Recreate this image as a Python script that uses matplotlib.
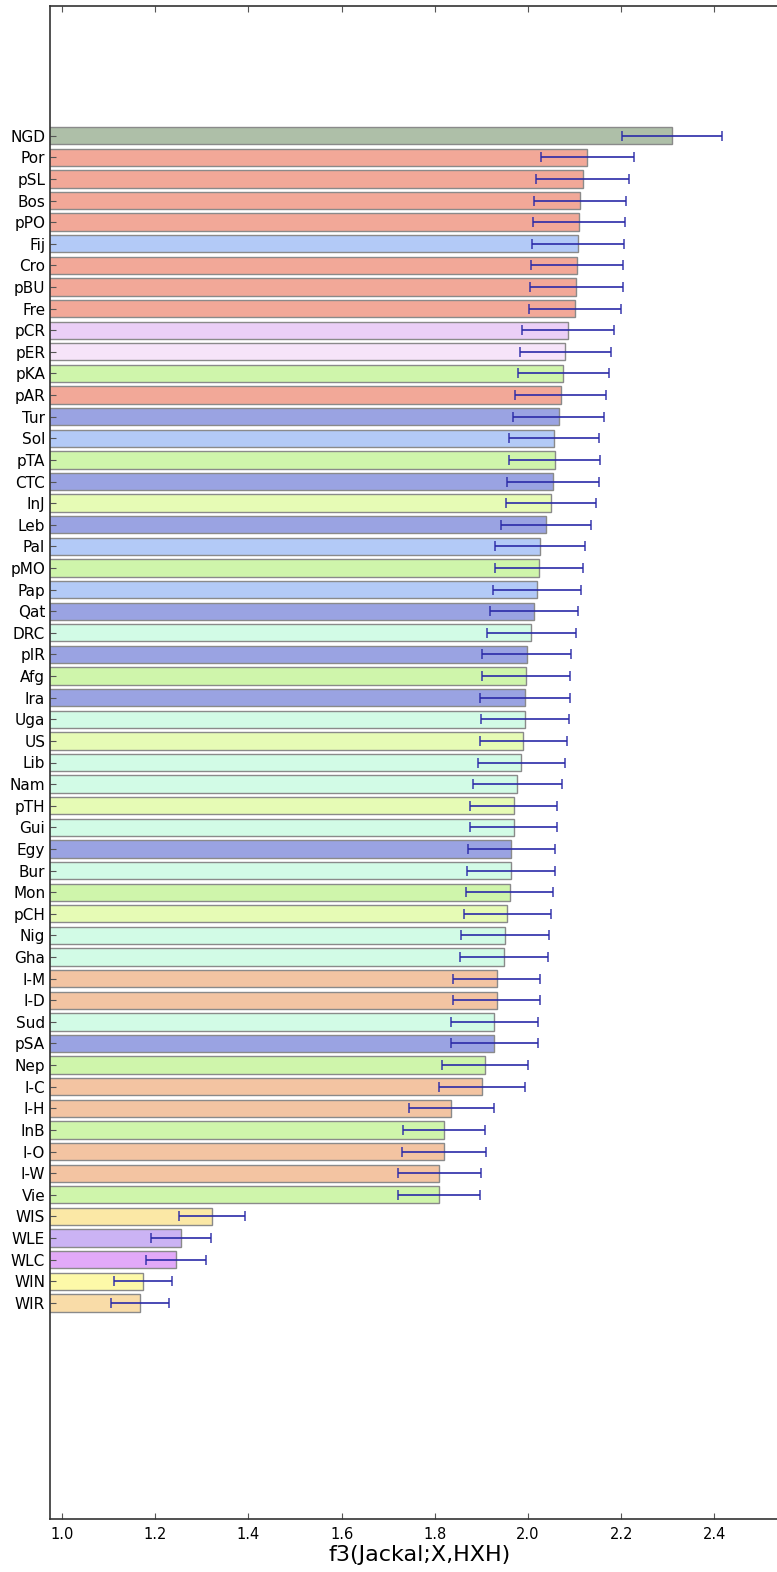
"""Horizontal bar chart of f3(Jackal;X,HXH) per population with error bars."""

import matplotlib

matplotlib.use("Agg")
import matplotlib.pyplot as plt
import numpy as np

# populations, top to bottom
labels = [
    "NGD", "Por", "pSL", "Bos", "pPO", "Fij", "Cro", "pBU", "Fre", "pCR",
    "pER", "pKA", "pAR", "Tur", "Sol", "pTA", "CTC", "InJ", "Leb", "Pal",
    "pMO", "Pap", "Qat", "DRC", "pIR", "Afg", "Ira", "Uga", "US", "Lib",
    "Nam", "pTH", "Gui", "Egy", "Bur", "Mon", "pCH", "Nig", "Gha", "I-M",
    "I-D", "Sud", "pSA", "Nep", "I-C", "I-H", "InB", "I-O", "I-W", "Vie",
    "WIS", "WLE", "WLC", "WIN", "WIR",
]

f3_values = [
    2.309, 2.127, 2.117, 2.112, 2.109, 2.107, 2.105, 2.104, 2.101, 2.086,
    2.080, 2.076, 2.070, 2.066, 2.056, 2.057, 2.054, 2.049, 2.039, 2.026,
    2.024, 2.019, 2.013, 2.007, 1.997, 1.996, 1.994, 1.994, 1.990, 1.986,
    1.977, 1.969, 1.969, 1.964, 1.963, 1.961, 1.956, 1.951, 1.949, 1.933,
    1.933, 1.928, 1.928, 1.908, 1.901, 1.835, 1.820, 1.819, 1.810, 1.808,
    1.322, 1.255, 1.245, 1.173, 1.167,
]

f3_errors = [
    0.107, 0.100, 0.099, 0.099, 0.099, 0.099, 0.099, 0.099, 0.099, 0.098,
    0.098, 0.098, 0.098, 0.098, 0.097, 0.097, 0.098, 0.096, 0.097, 0.096,
    0.095, 0.095, 0.095, 0.096, 0.095, 0.095, 0.097, 0.095, 0.094, 0.094,
    0.095, 0.093, 0.094, 0.093, 0.094, 0.093, 0.094, 0.094, 0.094, 0.093,
    0.093, 0.094, 0.093, 0.092, 0.092, 0.091, 0.088, 0.090, 0.089, 0.088,
    0.070, 0.064, 0.065, 0.062, 0.062,
]

SALMON = "#f2a898"
LBLUE = "#b3caf7"
GREEN = "#cff5ab"
PERI = "#9aa3e2"
YGREEN = "#e6fbb5"
MINT = "#d2fbe6"
PEACH = "#f3c4a2"

bar_colors = [
    "#aebfa8", SALMON, SALMON, SALMON, SALMON, LBLUE, SALMON, SALMON, SALMON, "#ebcff7",
    "#f6e4f9", GREEN, SALMON, PERI, LBLUE, GREEN, PERI, YGREEN, PERI, LBLUE,
    GREEN, LBLUE, PERI, MINT, PERI, GREEN, PERI, MINT, YGREEN, MINT,
    MINT, YGREEN, MINT, PERI, MINT, GREEN, YGREEN, MINT, MINT, PEACH,
    PEACH, MINT, PERI, GREEN, PEACH, PEACH, GREEN, PEACH, PEACH, GREEN,
    "#fbe8a6", "#cbb3f4", "#e2a9f8", "#fdf9a8", "#f9dca8",
]

W, H = 777, 1572
fig = plt.figure(figsize=(W / 100, H / 100), dpi=100)
# axes runs past the right edge of the figure
left_px, right_px, top_px, bottom_px = 50, 790, 6, 1519
ax = fig.add_axes([
    left_px / W,
    1 - bottom_px / H,
    (right_px - left_px) / W,
    (bottom_px - top_px) / H,
])

n = len(labels)
ypos = np.arange(n)[::-1]
ax.barh(
    ypos, f3_values, height=0.8, color=bar_colors,
    edgecolor="#8a8a8a", linewidth=1.0,
)
ax.errorbar(
    f3_values, ypos, xerr=f3_errors, fmt="none",
    ecolor="#2a2aa8", elinewidth=1.4, capsize=3.5, capthick=1.2, alpha=0.85,
)

ax.set_yticks(ypos)
ax.set_yticklabels(labels, fontsize=11)
ax.set_ylim(-10, 60)

x0 = 1.0 - 12 / 466
x1 = 1.0 + (right_px - 62) / 466
ax.set_xlim(x0, x1)
ax.set_xticks(np.arange(1.0, 2.41, 0.2))
ax.set_xticklabels([f"{t:.1f}" for t in np.arange(1.0, 2.41, 0.2)], fontsize=10.5)
ax.set_xlabel("f3(Jackal;X,HXH)", fontsize=16, labelpad=2)

ax.tick_params(direction="in", top=True, right=True, length=4, width=0.8,
               color="#555555")
ax.tick_params(axis="x", pad=6)
for sp in ax.spines.values():
    sp.set_linewidth(1.2)
    sp.set_color("#333333")

fig.savefig("out.png", dpi=100)
